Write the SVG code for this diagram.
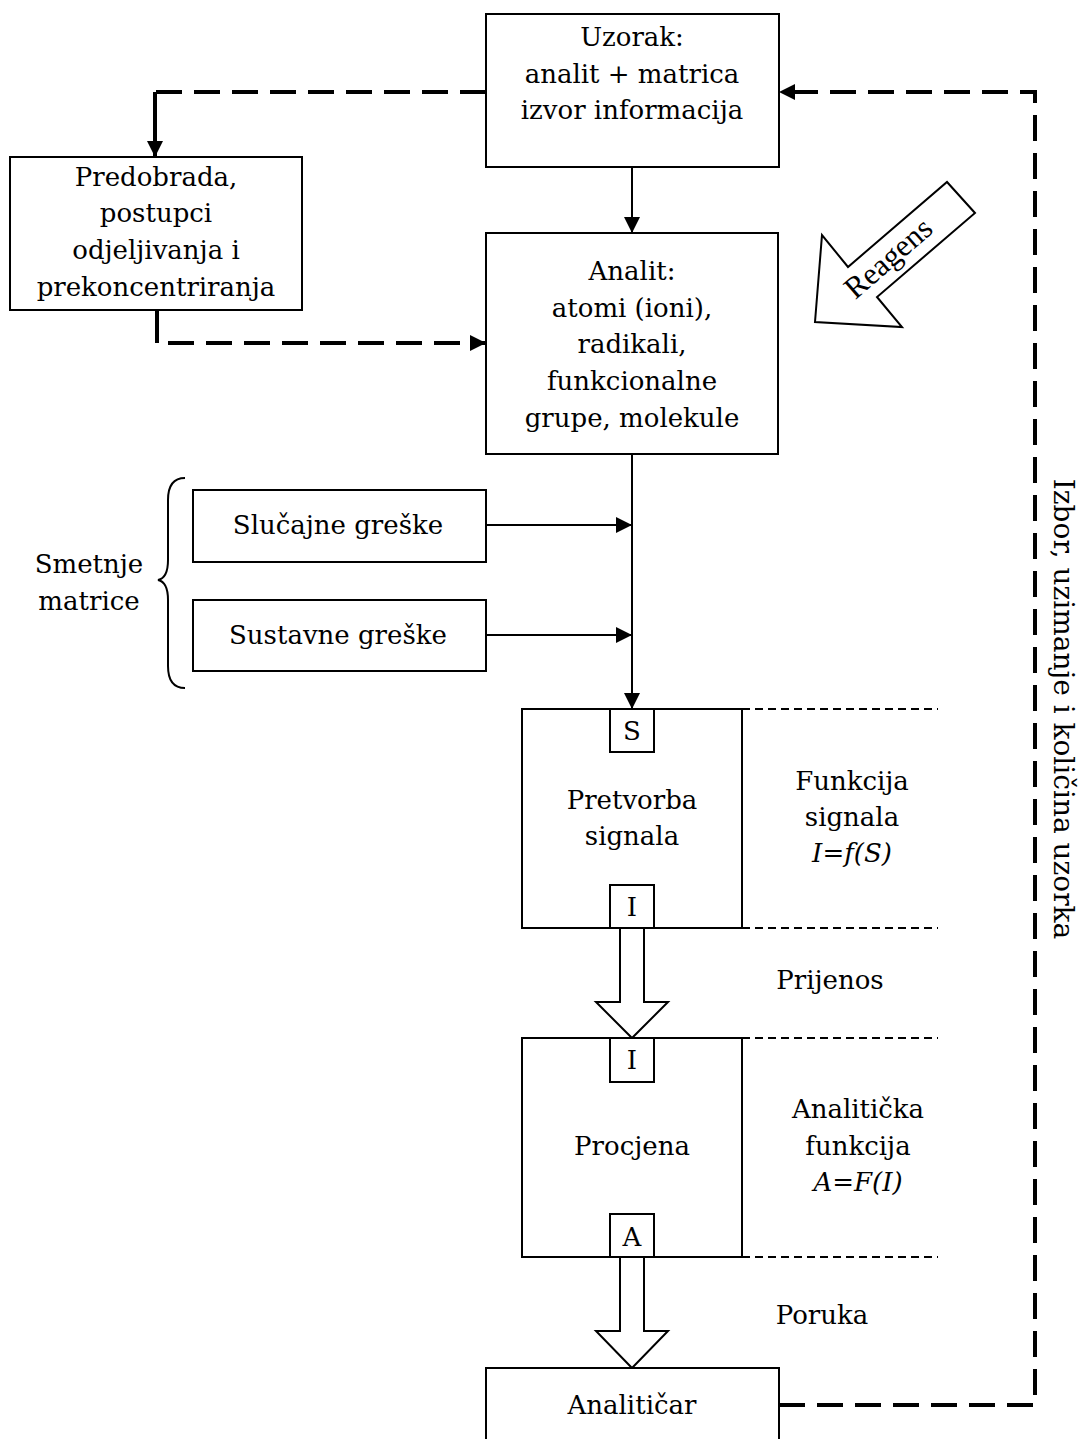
<svg xmlns="http://www.w3.org/2000/svg" width="1081" height="1439" viewBox="0 0 1081 1439">
<style>
text{font-family:"DejaVu Serif","Liberation Serif",serif;font-size:26px;fill:#000;text-anchor:middle}
.it{font-style:italic}
.box{fill:#fff;stroke:#000;stroke-width:2}
.ln{fill:none;stroke:#000;stroke-width:2}
.dash{fill:none;stroke:#000;stroke-width:4;stroke-dasharray:26 12}
.thin{fill:none;stroke:#000;stroke-width:2;stroke-dasharray:8 5}
.hollow{fill:#fff;stroke:#000;stroke-width:2;stroke-linejoin:miter}
</style>
<defs>
<marker id="ah" viewBox="0 0 10 10" refX="10" refY="5" markerWidth="22" markerHeight="16" markerUnits="userSpaceOnUse" orient="auto"><path d="M0,0L10,5L0,10Z" fill="#000"/></marker>
<marker id="ahd" viewBox="0 0 10 10" refX="10" refY="5" markerWidth="22" markerHeight="16" markerUnits="userSpaceOnUse" orient="auto"><path d="M0,0L10,5L0,10Z" fill="#000"/></marker>
</defs>
<rect width="1081" height="1439" fill="#fff"/>
<g id="connectors">
<line class="ln" x1="632" y1="167" x2="632" y2="233" marker-end="url(#ah)"/>
<line class="ln" x1="632" y1="454" x2="632" y2="709" marker-end="url(#ah)"/>
<line class="ln" x1="486" y1="525" x2="632" y2="525" marker-end="url(#ah)"/>
<line class="ln" x1="486" y1="635" x2="632" y2="635" marker-end="url(#ah)"/>
<path class="dash" d="M486,92 H155"/>
<path d="M155,92 V157" fill="none" stroke="#000" stroke-width="4" marker-end="url(#ahd)"/>
<path d="M157,310 V343" fill="none" stroke="#000" stroke-width="4"/>
<path class="dash" d="M168,343 H486" marker-end="url(#ahd)"/>
<path class="dash" d="M779,1405 H1035 V92 H779" marker-end="url(#ahd)"/>
<line class="thin" x1="742" y1="709" x2="938" y2="709"/>
<line class="thin" x1="742" y1="928" x2="938" y2="928"/>
<line class="thin" x1="742" y1="1038" x2="938" y2="1038"/>
<line class="thin" x1="742" y1="1257" x2="938" y2="1257"/>
<path class="hollow" d="M620,928 V1002 H596 L632,1038 L668,1002 H644 V928"/>
<path class="hollow" d="M620,1257 V1331 H596 L632,1368 L668,1331 H644 V1257"/>
<path class="ln" d="M185,478 Q168,478 168,500 V560 Q168,578 158,580 Q168,582 168,600 V666 Q168,688 185,688"/>
</g>
<g id="uzorak">
<rect class="box" x="486" y="14" width="293" height="153"/>
<text x="632" y="46">Uzorak:</text>
<text x="632" y="83">analit + matrica</text>
<text x="632" y="119">izvor informacija</text>
</g>
<g id="predobrada">
<rect class="box" x="10" y="157" width="292" height="153"/>
<text x="156" y="186">Predobrada,</text>
<text x="156" y="222">postupci</text>
<text x="156" y="259">odjeljivanja i</text>
<text x="156" y="296">prekoncentriranja</text>
</g>
<g id="analit">
<rect class="box" x="486" y="233" width="292" height="221"/>
<text x="632" y="280">Analit:</text>
<text x="632" y="317">atomi (ioni),</text>
<text x="632" y="353">radikali,</text>
<text x="632" y="390">funkcionalne</text>
<text x="632" y="427">grupe, molekule</text>
</g>
<g id="reagens">
<polygon class="hollow" points="815,322 822,235 848,267 947,182 975,213 877,297 902,327"/>
<text x="889" y="268" transform="rotate(-41 889 259)" style="font-family:'Liberation Serif',serif;font-size:31px">Reagens</text>
</g>
<g id="slucajne">
<rect class="box" x="193" y="490" width="293" height="72"/>
<text x="338" y="534">Slučajne greške</text>
</g>
<g id="sustavne">
<rect class="box" x="193" y="600" width="293" height="71"/>
<text x="338" y="644">Sustavne greške</text>
</g>
<g id="smetnje">
<text x="89" y="573">Smetnje</text>
<text x="89" y="610">matrice</text>
</g>
<g id="pretvorba">
<rect class="box" x="522" y="709" width="220" height="219"/>
<rect class="box" x="610" y="709" width="44" height="43"/>
<text x="632" y="740">S</text>
<rect class="box" x="610" y="885" width="44" height="43"/>
<text x="632" y="916">I</text>
<text x="632" y="809">Pretvorba</text>
<text x="632" y="845">signala</text>
</g>
<g id="funkcija">
<text x="852" y="790">Funkcija</text>
<text x="852" y="826">signala</text>
<text x="852" y="862" class="it">I=f(S)</text>
</g>
<g id="prijenos"><text x="830" y="989">Prijenos</text></g>
<g id="procjena">
<rect class="box" x="522" y="1038" width="220" height="219"/>
<rect class="box" x="610" y="1038" width="44" height="44"/>
<text x="632" y="1069">I</text>
<rect class="box" x="610" y="1214" width="44" height="43"/>
<text x="632" y="1246">A</text>
<text x="632" y="1155">Procjena</text>
</g>
<g id="analiticka">
<text x="858" y="1118">Analitička</text>
<text x="858" y="1155">funkcija</text>
<text x="858" y="1191" class="it">A=F(I)</text>
</g>
<g id="poruka"><text x="822" y="1324">Poruka</text></g>
<g id="analiticar">
<rect class="box" x="486" y="1368" width="293" height="80"/>
<text x="632" y="1414">Analitičar</text>
</g>
<g id="izbor">
<text x="1063" y="709" transform="rotate(90 1063 709)" dy="9" style="font-size:28px">Izbor, uzimanje i količina uzorka</text>
</g>
</svg>
